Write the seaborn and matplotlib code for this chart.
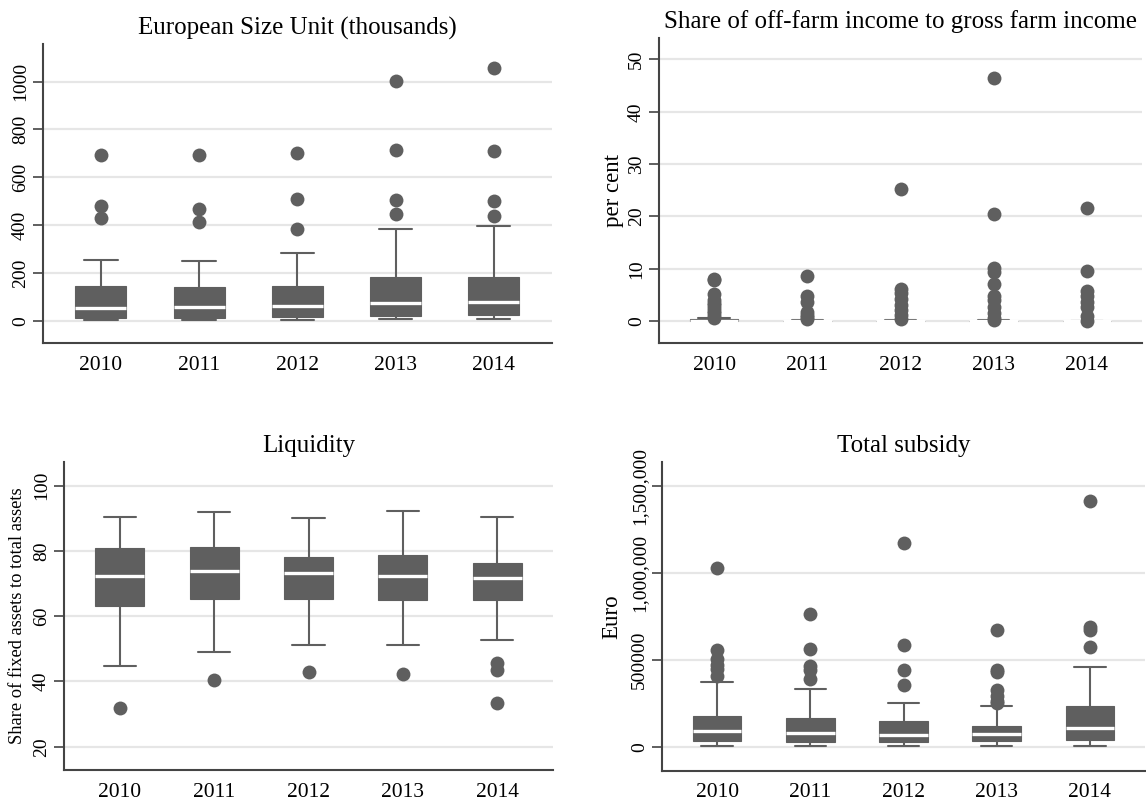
import numpy as np
import pandas as pd
import matplotlib
matplotlib.use("Agg")
import matplotlib.pyplot as plt
import seaborn as sns

sns.set_theme(style="white")
plt.rcParams['font.family'] = ['Liberation Serif', 'DejaVu Serif']
plt.rcParams['text.color'] = 'black'
plt.rcParams['axes.labelcolor'] = 'black'
plt.rcParams['xtick.color'] = 'black'
plt.rcParams['ytick.color'] = 'black'

years = ["2010", "2011", "2012", "2013", "2014"]

# ---- European Size Unit (thousands) ----
esu_lo = [3, 3, 4, 7, 7]
esu_q1 = [11, 14, 15, 22, 24]
esu_med = [53, 60, 63, 74, 79]
esu_q3 = [148, 141, 148, 184, 185]
esu_hi = [253, 252, 283, 383, 398]
esu_out = [[692, 482, 429], [692, 468, 415], [702, 510, 384],
           [1003, 713, 504, 446], [1057, 712, 501, 440]]

# ---- Share of off-farm income to gross farm income (per cent) ----
off_lo = [0, 0, 0, 0, 0]
off_q1 = [0, 0, 0, 0, 0]
off_med = [0.05, 0.0, 0.0, 0.0, 0.0]
off_q3 = [0.3, 0.05, 0.05, 0.05, 0.02]
off_hi = [0.6, 0.2, 0.25, 0.25, 0.05]
off_out = [[8.0, 7.8, 5.2, 4.0, 3.5, 3.0, 2.5, 2.0, 1.5, 1.0, 0.6],
           [8.6, 4.8, 3.7, 1.8, 1.2, 0.8, 0.3],
           [25.2, 6.2, 5.3, 4.3, 3.0, 2.1, 1.1, 0.4],
           [46.4, 20.4, 10.1, 9.4, 7.0, 4.8, 4.0, 2.7, 1.5, 0.5, 0.2],
           [21.7, 9.6, 5.7, 4.8, 3.7, 2.7, 1.0, 0.0]]

# ---- Liquidity: share of fixed assets to total assets ----
liq_lo = [44.8, 49.0, 51.3, 51.3, 52.8]
liq_q1 = [63.1, 65.3, 65.2, 65.1, 65.0]
liq_med = [72.3, 73.8, 73.3, 72.4, 71.8]
liq_q3 = [81.0, 81.3, 78.1, 78.7, 76.4]
liq_hi = [90.3, 92.1, 90.0, 92.2, 90.3]
liq_out = [[32.0], [40.5], [43.0], [42.3], [45.6, 43.6, 33.4]]

# ---- Total subsidy (Euro) ----
sub_lo = [6000, 6000, 6000, 6000, 6000]
sub_q1 = [31000, 25000, 27000, 31000, 40000]
sub_med = [88000, 78000, 65000, 71000, 107000]
sub_q3 = [178000, 163000, 145000, 119000, 231000]
sub_hi = [373000, 333000, 251000, 233000, 457000]
sub_out = [[1029000, 557000, 503000, 470000, 445000, 407000],
           [760000, 562000, 461000, 438000, 388000],
           [1169000, 585000, 442000, 352000],
           [671000, 442000, 432000, 323000, 289000, 262000, 250000],
           [1414000, 685000, 668000, 572000]]

GRAY = "#5f5f5f"
K = 50


def core_frame(lo, q1, med, q3, hi):
    rows = []
    for i, y in enumerate(years):
        vals = [lo[i]] + [q1[i]] * K + [med[i]] * K + [q3[i]] * K + [hi[i]]
        rows += [(y, v) for v in vals]
    return pd.DataFrame(rows, columns=["year", "value"])


def out_frame(outs):
    rows = []
    for i, y in enumerate(years):
        rows += [(y, v) for v in outs[i]]
    return pd.DataFrame(rows, columns=["year", "value"])


W, H = 1146, 805
fig = plt.figure(figsize=(W / 100, H / 100), dpi=100)


def make_ax(l, r, b, t):
    return fig.add_axes([l / W, 1 - b / H, (r - l) / W, (b - t) / H])


panels = [
    dict(rect=(42.7, 552, 343, 44), stats=(esu_lo, esu_q1, esu_med, esu_q3, esu_hi),
         outs=esu_out, ylim=(-92, 1157), yticks=[0, 200, 400, 600, 800, 1000],
         ylabels=["0", "200", "400", "600", "800", "1000"],
         title="European Size Unit (thousands)", ylabel=None),
    dict(rect=(659, 1142, 343, 38), stats=(off_lo, off_q1, off_med, off_q3, off_hi),
         outs=off_out, ylim=(-4.2, 54.1), yticks=[0, 10, 20, 30, 40, 50],
         ylabels=["0", "10", "20", "30", "40", "50"],
         title="Share of off-farm income to gross farm income",
         ylabel=("per cent", 16.5, -0.072)),
    dict(rect=(64, 553, 770, 462), stats=(liq_lo, liq_q1, liq_med, liq_q3, liq_hi),
         outs=liq_out, ylim=(12.86, 107.3), yticks=[20, 40, 60, 80, 100],
         ylabels=["20", "40", "60", "80", "100"],
         title="Liquidity",
         ylabel=("Share of fixed assets to total assets", 13.3, -0.078)),
    dict(rect=(662, 1145, 770.7, 462), stats=(sub_lo, sub_q1, sub_med, sub_q3, sub_hi),
         outs=sub_out, ylim=(-138000, 1636000), yticks=[0, 500000, 1000000, 1500000],
         ylabels=["0", "500000", "1,000,000", "1,500,000"],
         title="Total subsidy",
         ylabel=("Euro", 16.5, -0.083)),
]

for p in panels:
    l, r, b, t = p["rect"]
    ax = make_ax(l, r, b, t)
    df = core_frame(*p["stats"])
    sns.boxplot(data=df, x="year", y="value", order=years, whis=(0, 100),
                width=0.52, color=GRAY, saturation=1, fill=True, linecolor=GRAY,
                linewidth=1.5, showfliers=False, capwidths=0.34,
                boxprops=dict(edgecolor=GRAY, facecolor=GRAY, linewidth=0.8),
                medianprops=dict(color="white", linewidth=2.4),
                whiskerprops=dict(color=GRAY, linewidth=1.5),
                capprops=dict(color=GRAY, linewidth=1.5),
                ax=ax, zorder=3)
    od = out_frame(p["outs"])
    sns.stripplot(data=od, x="year", y="value", order=years, jitter=False,
                  color=GRAY, size=10, linewidth=0, ax=ax, zorder=4)
    ax.set_xlim(-0.593, 4.593)
    ax.set_ylim(*p["ylim"])
    ax.set_yticks(p["yticks"])
    ax.set_yticklabels(p["ylabels"], rotation=90, va="center", fontsize=14)
    ax.tick_params(axis="y", length=7, width=1.2, color="#444444", pad=3, left=True)
    ax.tick_params(axis="x", length=0, pad=9, labelsize=15.5)
    ax.yaxis.grid(True, color="#e6e6e6", linewidth=1.6, zorder=0)
    ax.xaxis.grid(False)
    ax.set_axisbelow(True)
    for s in ["top", "right"]:
        ax.spines[s].set_visible(False)
    for s in ["left", "bottom"]:
        ax.spines[s].set_color("#444444")
        ax.spines[s].set_linewidth(1.5)
    ax.set_xlabel("")
    ax.set_title(p["title"], fontsize=18, pad=7, color="black")
    if p["ylabel"]:
        txt, fs, xc = p["ylabel"]
        ax.set_ylabel(txt, fontsize=fs, color="black")
        ax.yaxis.set_label_coords(xc, 0.5)
    else:
        ax.set_ylabel("")
    for lab in ax.get_xticklabels() + ax.get_yticklabels():
        lab.set_color("black")

fig.savefig("out.png", dpi=100)
